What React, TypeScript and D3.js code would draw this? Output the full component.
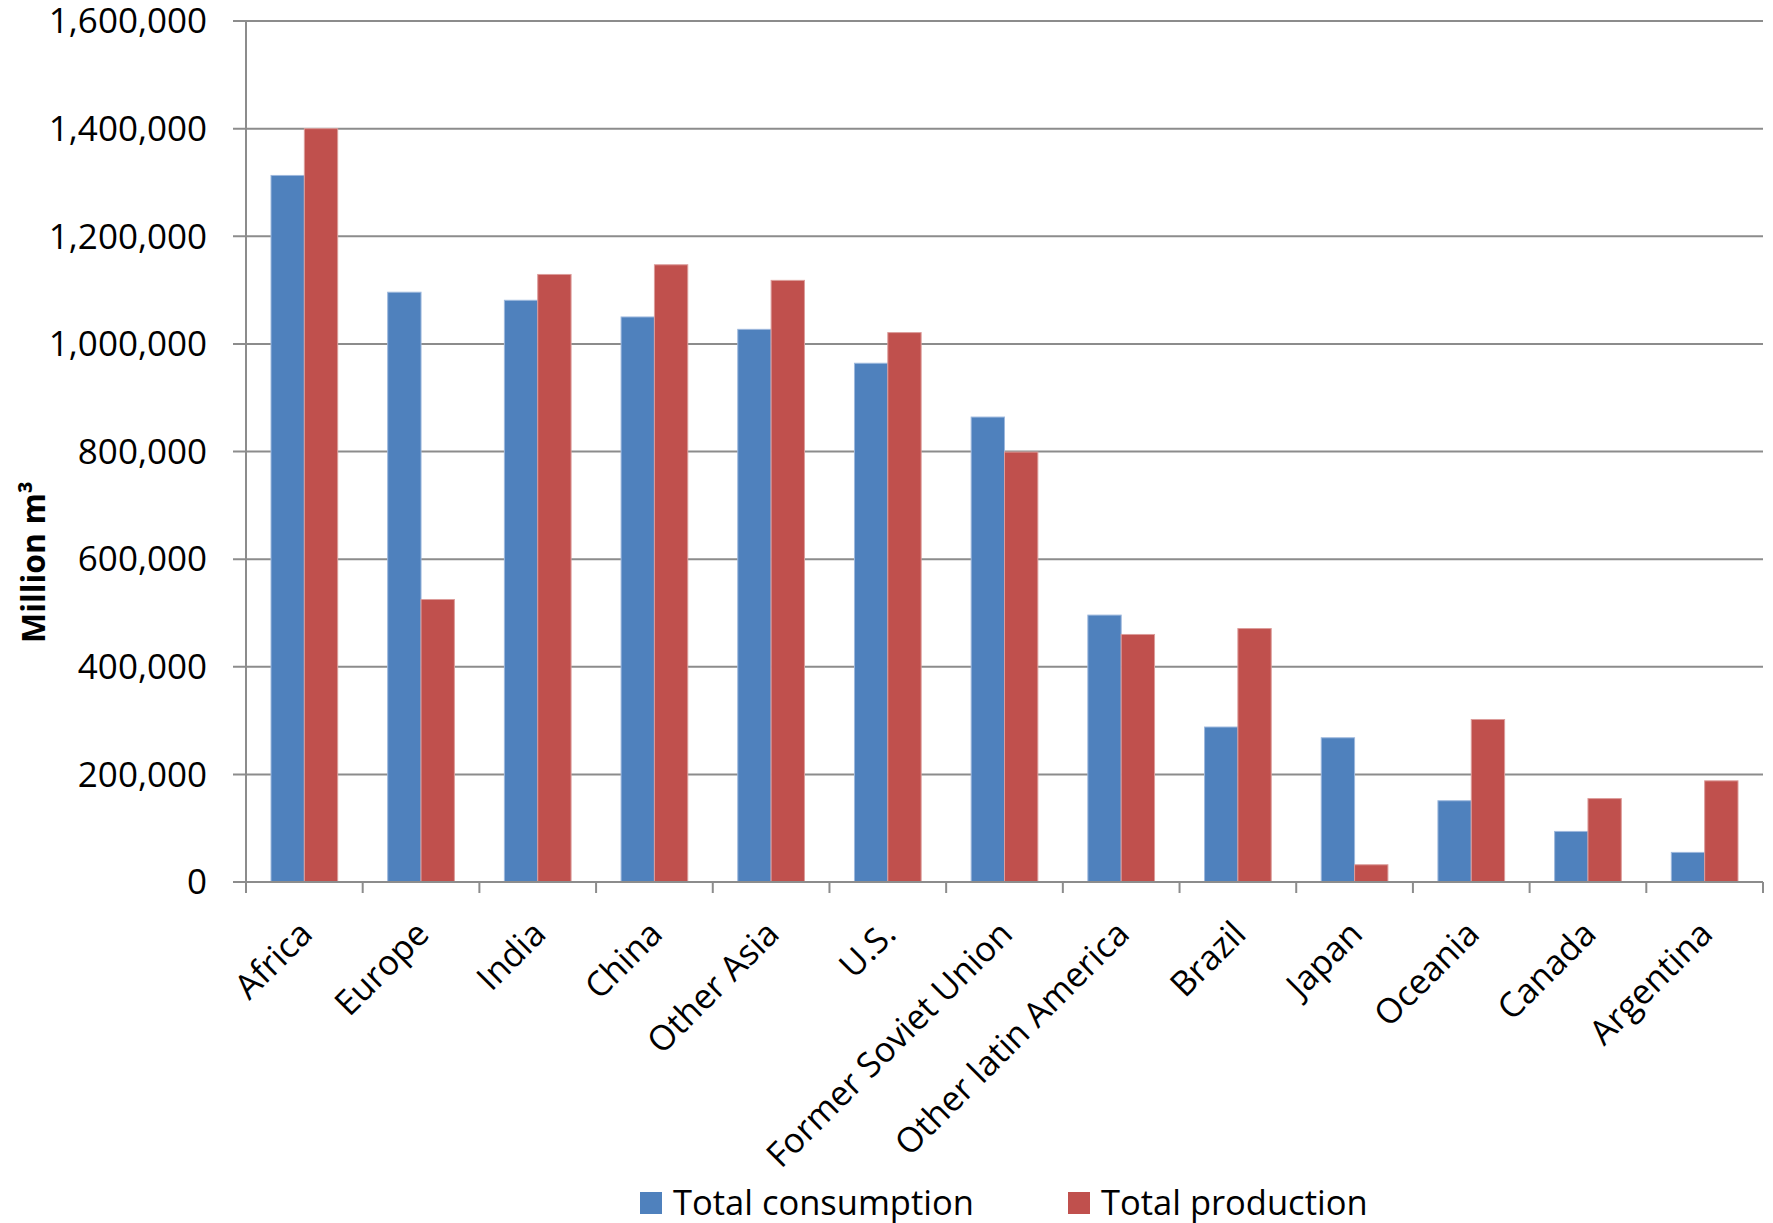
import React from "react";
import * as d3 from "d3";

const categories = [
  "Africa", "Europe", "India", "China", "Other Asia", "U.S.",
  "Former Soviet Union", "Other latin America", "Brazil", "Japan",
  "Oceania", "Canada", "Argentina",
];
const consumption = [1313000, 1096000, 1081000, 1050000, 1027000, 964000, 864000, 496000, 288000, 268000, 151000, 94000, 55000];
const production = [1400000, 525000, 1129000, 1147000, 1118000, 1021000, 799000, 460000, 471000, 32000, 302000, 155000, 188000];
const seriesNames = ["Total consumption", "Total production"];
const yTicks = [0, 200000, 400000, 600000, 800000, 1000000, 1200000, 1400000, 1600000];

const COLORS = ["#4F81BD", "#C0504D"];
const STROKES = ["#9DB8DD", "#DC9C9A"];
const GRID = "#8C8C8C";
const FONT = "'Open Sans', sans-serif";

export default function App() {
  const W = 1773, H = 1223;
  const left = 246, right = 1763, top = 21, bottom = 882;
  const x = d3.scaleBand<string>().domain(categories).range([left, right]).paddingInner(0).paddingOuter(0);
  const bw = x.bandwidth();
  const barW = bw / 3.5;
  const y = d3.scaleLinear().domain([0, 1600000]).range([bottom, top]);
  const fmt = d3.format(",");
  const series = [consumption, production];

  return (
    <svg width={W} height={H} style={{ position: "absolute", left: 0, top: 0, background: "#fff" }} fontFamily={FONT}>
      {yTicks.map((t) => (
        <g key={t}>
          <line x1={left - 13} x2={right} y1={y(t)} y2={y(t)} stroke={GRID} strokeWidth={2} />
          <text x={207} y={y(t)} dy="0.35em" textAnchor="end" fontSize={35} fill="#000">{fmt(t)}</text>
        </g>
      ))}
      {categories.map((c, i) => (
        <g key={c}>
          {series.map((s, k) => {
            const bx = (x(c) as number) + bw / 2 - barW + k * barW;
            return (
              <rect key={k} x={bx} y={y(s[i])} width={barW} height={y(0) - y(s[i])}
                fill={COLORS[k]} stroke={STROKES[k]} strokeWidth={1} />
            );
          })}
        </g>
      ))}
      <line x1={left} x2={left} y1={top} y2={bottom + 11} stroke={GRID} strokeWidth={2} />
      <line x1={left - 13} x2={right} y1={bottom} y2={bottom} stroke={GRID} strokeWidth={2} />
      {d3.range(categories.length + 1).map((i) => {
        const tx = left + i * bw;
        return <line key={i} x1={tx} x2={tx} y1={bottom} y2={bottom + 11} stroke={GRID} strokeWidth={2} />;
      })}
      {categories.map((c) => {
        const cx = (x(c) as number) + bw / 2 + 10;
        const cy = 936;
        return (
          <text key={c} transform={`translate(${cx},${cy}) rotate(-45)`} textAnchor="end" fontSize={34.5} fill="#000">{c}</text>
        );
      })}
      <text transform="translate(45,562) rotate(-90)" textAnchor="middle" fontSize={32} fontWeight="bold" fill="#000">Million m³</text>
      {seriesNames.map((n, k) => {
        const lx = k === 0 ? 640 : 1068;
        return (
          <g key={n}>
            <rect x={lx} y={1192} width={22} height={22} fill={COLORS[k]} />
            <text x={lx + 33} y={1203} dy="0.36em" fontSize={34.5} fill="#000">{n}</text>
          </g>
        );
      })}
    </svg>
  );
}
